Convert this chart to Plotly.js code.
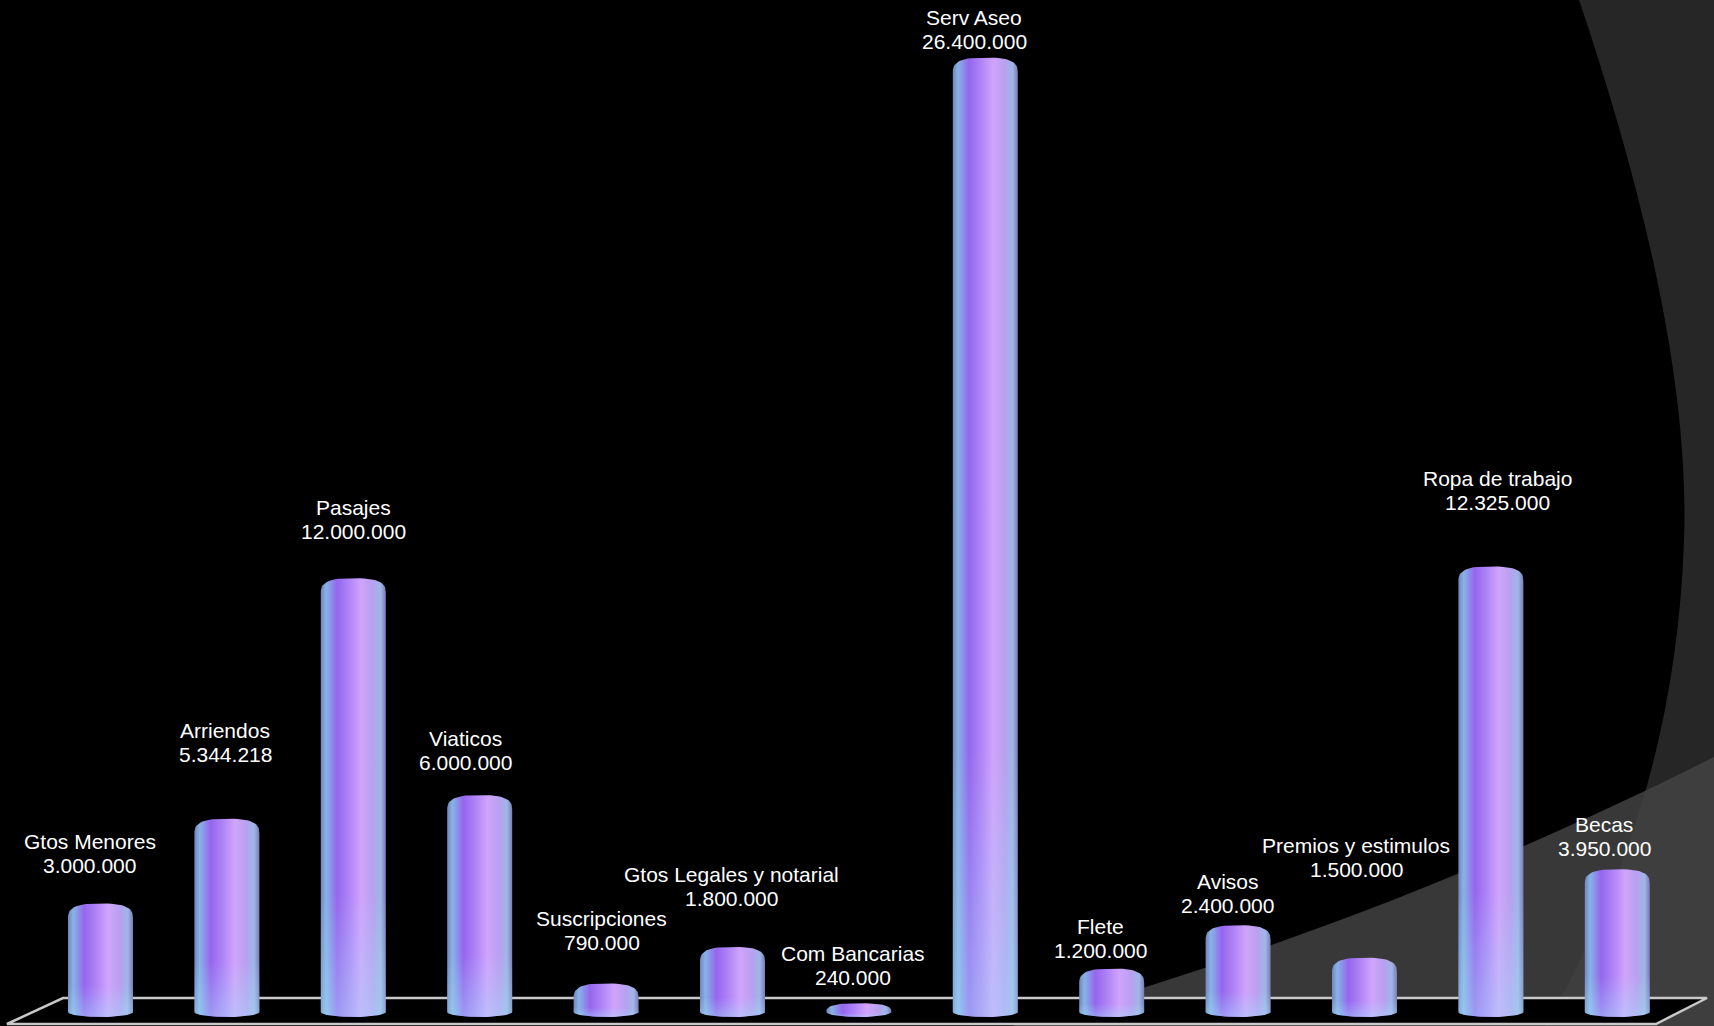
<!DOCTYPE html>
<html>
<head>
<meta charset="utf-8">
<script src="https://cdn.plot.ly/plotly-3.0.1.min.js"></script>
<style>html,body{margin:0;padding:0;background:#000;}#chart{width:1714px;height:1026px;}</style>
</head>
<body>
<div id="chart"></div>
<script>
// ---- data ----
const categories = ["Gtos Menores", "Arriendos", "Pasajes", "Viaticos", "Suscripciones",
  "Gtos Legales y notarial", "Com Bancarias", "Serv Aseo", "Flete", "Avisos",
  "Premios y estimulos", "Ropa de trabajo", "Becas"];
const values = [3000000, 5344218, 12000000, 6000000, 790000, 1800000, 240000,
  26400000, 1200000, 2400000, 1500000, 12325000, 3950000];

// ---- label placement (pixel nudges relative to bar top) ----
const labelDx = [-11, -1.5, 0, -14, -4.5, -1.5, -6, -11, -11.5, -11, -8.5, 6.5, -13];
const labelDy = [38.5, 64.5, 46.5, 32.5, 40.5, 48.5, 25.5, 16, 18.5, 19.5, 88.5, 63.5, 20.5];

// ---- geometry / styling ----
const W = 1714, H = 1026;
const barPitch = 126.4, firstBarPx = 100.5, basePx = 1012;
const pxPerUnit = 36.15 / 1e6;
const halfWidthPx = 32.5, capPx = 15, bottomDepthPx = 5;
const xRange = [-firstBarPx / barPitch, (W - firstBarPx) / barPitch];
const yRange = [-(H - basePx) / pxPerUnit, basePx / pxPerUnit];

function fmt(v) { return String(Math.round(v)).replace(/\B(?=(\d{3})+(?!\d))/g, "."); }

const baseScale = [[0, '#7484bd'], [0.08, '#86b4e6'], [0.25, '#9566ee'], [0.45, '#b286f6'],
  [0.62, '#d0a4fb'], [0.8, '#b8a0f0'], [0.92, '#9fb6e6'], [1, '#7b7db3']];
const tintScale = [[0, 'rgba(165,225,250,0.42)'], [0.28, 'rgba(165,225,250,0)'], [1, 'rgba(165,225,250,0)']];

const traces = [];
values.forEach(function (v, i) {
  const hPx = v * pxPerUnit;
  const cap = Math.min(capPx, hPx);
  const xs = [], ys = [];
  const toX = function (dpx) { return i + dpx / barPitch; };
  const toY = function (dpy) { return dpy / pxPerUnit; };
  const N = 30;
  for (let k = 0; k <= N; k++) {
    const t = Math.PI + Math.PI * k / N;
    xs.push(toX(halfWidthPx * Math.cos(t)));
    ys.push(toY(bottomDepthPx * Math.sin(t)));
  }
  for (let k = 0; k <= N; k++) {
    const t = Math.PI * k / N;
    const c = Math.cos(t), s = Math.sin(t);
    xs.push(toX(halfWidthPx * Math.sign(c) * Math.pow(Math.abs(c), 0.7)));
    ys.push(toY(hPx - cap + cap * Math.pow(Math.abs(s), 0.7)));
  }
  xs.push(xs[0]); ys.push(ys[0]);
  traces.push({
    type: 'scatter', mode: 'lines', x: xs, y: ys, fill: 'toself',
    line: {width: 0, color: 'rgba(0,0,0,0)'},
    fillgradient: {type: 'horizontal', colorscale: baseScale},
    hoverinfo: 'skip', showlegend: false
  });
  traces.push({
    type: 'scatter', mode: 'lines', x: xs, y: ys, fill: 'toself',
    line: {width: 0, color: 'rgba(0,0,0,0)'},
    fillgradient: {type: 'vertical', colorscale: tintScale},
    hoverinfo: 'skip', showlegend: false
  });
});

const font = {family: 'Liberation Sans, Arial, sans-serif', size: 21, color: '#ffffff'};
const annotations = [];
categories.forEach(function (c, i) {
  annotations.push({x: i, y: values[i], xref: 'x', yref: 'y', text: fmt(values[i]),
    showarrow: false, xshift: labelDx[i], yshift: labelDy[i], yanchor: 'middle', font: font});
  annotations.push({x: i, y: values[i], xref: 'x', yref: 'y', text: c,
    showarrow: false, xshift: labelDx[i], yshift: labelDy[i] + 24, yanchor: 'middle', font: font});
});

function P(x, y) { return (x / W).toFixed(5) + ',' + (1 - y / H).toFixed(5); }
const shapes = [
  {type: 'path', xref: 'paper', yref: 'paper', layer: 'below',
   path: 'M' + P(1579, 0) + ' C' + P(1640, 180) + ' ' + P(1690, 380) + ' ' + P(1684, 540) +
         ' C' + P(1678, 720) + ' ' + P(1630, 880) + ' ' + P(1545, 1026) +
         ' L' + P(1714, 1026) + ' L' + P(1714, 0) + ' Z',
   fillcolor: '#262626', line: {width: 0}},
  {type: 'path', xref: 'paper', yref: 'paper', layer: 'below',
   path: 'M' + P(1012, 1026) + ' C' + P(1200, 975) + ' ' + P(1450, 890) + ' ' + P(1714, 757) +
         ' L' + P(1714, 1026) + ' Z',
   fillcolor: 'rgba(67,67,67,0.84)', line: {width: 0}},
  {type: 'path', xref: 'paper', yref: 'paper', layer: 'below',
   path: 'M' + P(63, 998) + ' L' + P(1707, 998) + ' L' + P(1656, 1024) + ' L' + P(7, 1024) + ' Z',
   fillcolor: '#000000', line: {width: 2.5, color: '#c9c9c9'}}
];

const layout = {
  width: W, height: H,
  margin: {l: 0, r: 0, t: 0, b: 0, pad: 0},
  paper_bgcolor: '#000000', plot_bgcolor: 'rgba(0,0,0,0)',
  showlegend: false,
  xaxis: {range: xRange, visible: false, fixedrange: true},
  yaxis: {range: yRange, visible: false, fixedrange: true},
  shapes: shapes, annotations: annotations
};

Plotly.newPlot('chart', traces, layout, {displayModeBar: false, staticPlot: true});
</script>
</body>
</html>
